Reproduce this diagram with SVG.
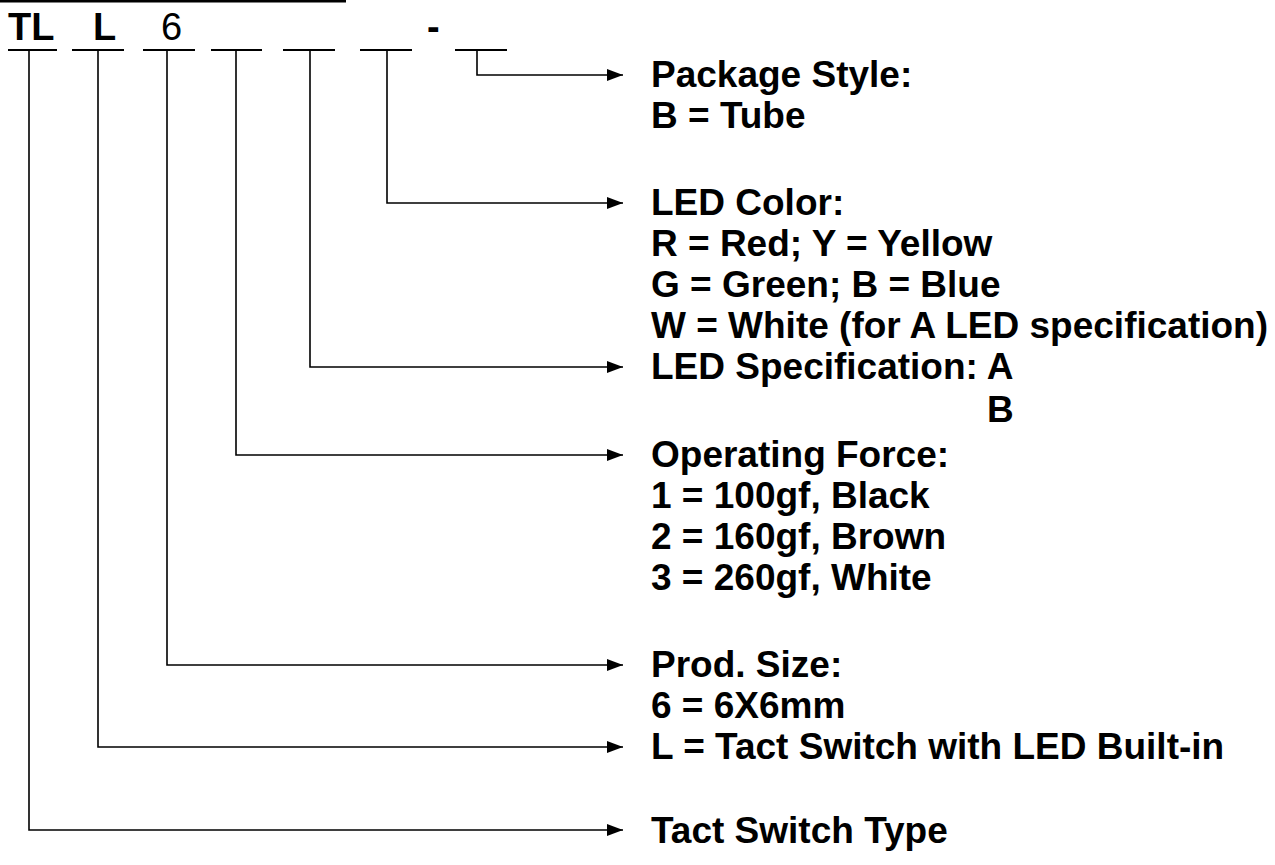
<svg xmlns="http://www.w3.org/2000/svg" width="1275" height="865" viewBox="0 0 1275 865">
<style>
.t{font-family:"Liberation Sans",Arial,sans-serif;font-weight:bold;font-size:37px;fill:#000}
.h{font-family:"Liberation Sans",Arial,sans-serif;font-weight:bold;font-size:38px;fill:#000}
.u{stroke:#000;stroke-width:2;fill:none}
.c{stroke:#000;stroke-width:1.6;fill:none}
</style>
<defs>
<marker id="ah" markerWidth="16" markerHeight="12" refX="16" refY="6" orient="auto" markerUnits="userSpaceOnUse">
<path d="M0,0 L16,6 L0,12 Z" fill="#000"/>
</marker>
</defs>
<rect x="0" y="0" width="346" height="2.5" fill="#000"/>
<g id="code">
<text class="h" x="8" y="40">TL</text>
<text class="h" x="93" y="40">L</text>
<text class="h" x="161" y="40" style="font-weight:normal">6</text>
<text class="h" x="427" y="40">-</text>
<line class="u" x1="8" y1="50" x2="57" y2="50"/>
<line class="u" x1="72" y1="50" x2="124" y2="50"/>
<line class="u" x1="143" y1="50" x2="195" y2="50"/>
<line class="u" x1="211" y1="50" x2="262" y2="50"/>
<line class="u" x1="283" y1="50" x2="335" y2="50"/>
<line class="u" x1="360" y1="50" x2="412" y2="50"/>
<line class="u" x1="455" y1="50" x2="507" y2="50"/>
</g>
<g id="connectors">
<polyline class="c" points="477,50 477,75 623,75" marker-end="url(#ah)"/>
<polyline class="c" points="387,50 387,203 623,203" marker-end="url(#ah)"/>
<polyline class="c" points="310,50 310,367 623,367" marker-end="url(#ah)"/>
<polyline class="c" points="236,50 236,455 623,455" marker-end="url(#ah)"/>
<polyline class="c" points="167,50 167,665 623,665" marker-end="url(#ah)"/>
<polyline class="c" points="98,50 98,747 623,747" marker-end="url(#ah)"/>
<polyline class="c" points="29,50 29,830 623,830" marker-end="url(#ah)"/>
</g>
<g id="package">
<text class="t" x="651" y="87">Package Style:</text>
<text class="t" x="651" y="128">B = Tube</text>
</g>
<g id="ledcolor">
<text class="t" x="651" y="215">LED Color:</text>
<text class="t" x="651" y="256">R = Red; Y = Yellow</text>
<text class="t" x="651" y="297">G = Green; B = Blue</text>
<text class="t" x="651" y="338">W = White (for A LED specification)</text>
</g>
<g id="ledspec">
<text class="t" x="651" y="379">LED Specification: A</text>
<text class="t" x="987" y="422">B</text>
</g>
<g id="force">
<text class="t" x="651" y="467">Operating Force:</text>
<text class="t" x="651" y="508">1 = 100gf, Black</text>
<text class="t" x="651" y="549">2 = 160gf, Brown</text>
<text class="t" x="651" y="590">3 = 260gf, White</text>
</g>
<g id="size">
<text class="t" x="651" y="677">Prod. Size:</text>
<text class="t" x="651" y="718">6 = 6X6mm</text>
</g>
<g id="led">
<text class="t" x="651" y="759">L = Tact Switch with LED Built-in</text>
</g>
<g id="type">
<text class="t" x="651" y="843">Tact Switch Type</text>
</g>
</svg>
